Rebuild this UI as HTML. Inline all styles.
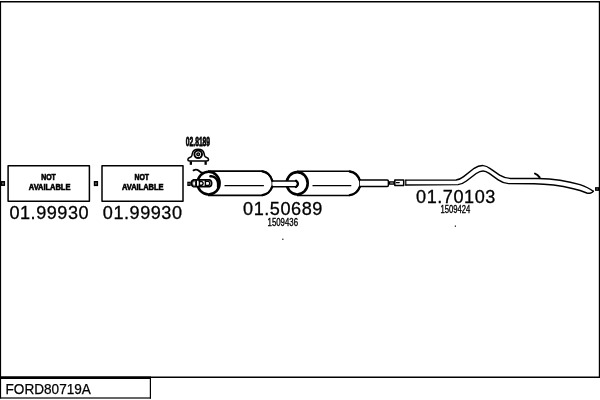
<!DOCTYPE html>
<html>
<head>
<meta charset="utf-8">
<title>FORD80719A</title>
<style>
  html, body { margin: 0; padding: 0; background: #ffffff; }
  body { width: 600px; height: 400px; overflow: hidden; font-family: "Liberation Sans", sans-serif; }
  svg { display: block; position: absolute; left: 0; top: 0; filter: grayscale(1); }
  text { font-family: "Liberation Sans", sans-serif; fill: #000; }
  .big { font-size: 18.1px; stroke: #000; stroke-width: 0.3; }
  .sm { font-size: 10.3px; stroke: #000; stroke-width: 0.35; }
  .na { font-size: 8.6px; font-weight: bold; stroke: #000; stroke-width: 0.65; }
  .ln { fill: none; stroke: #000; stroke-width: 1.1; stroke-linecap: round; stroke-linejoin: round; }
  .lnw { fill: #fff; stroke: #000; stroke-width: 1.1; stroke-linejoin: round; }
  .thick { fill: none; stroke: #000; stroke-width: 1.8; stroke-linecap: round; stroke-linejoin: round; }
</style>
</head>
<body>
<svg width="600" height="400" viewBox="0 0 600 400">
  <rect x="0" y="0" width="600" height="400" fill="#ffffff"/>

  <!-- outer frame -->
  <rect x="0" y="1" width="600" height="1.5" fill="#000"/>
  <rect x="0" y="1" width="1.1" height="397.5" fill="#000"/>
  <rect x="598.8" y="1" width="1.2" height="377" fill="#000"/>
  <rect x="0" y="376.5" width="600" height="1.5" fill="#000"/>
  <rect x="0" y="376.5" width="151" height="2.5" fill="#000"/>
  <!-- title box -->
  <rect x="149.8" y="377" width="1.2" height="21.6" fill="#000"/>
  <rect x="0" y="397.4" width="151" height="1.2" fill="#000"/>
  <text x="5.5" y="393.7" textLength="85.4" lengthAdjust="spacingAndGlyphs" style="font-size:14.1px;stroke:#000;stroke-width:0.25">FORD80719A</text>

  <!-- NOT AVAILABLE boxes -->
  <rect class="lnw" x="8.1" y="165.8" width="81.3" height="35.5" style="stroke-width:1.5"/>
  <rect class="lnw" x="102" y="165.8" width="81" height="35.5" style="stroke-width:1.5"/>
  <text class="na" x="48.5" y="180.3" text-anchor="middle" textLength="14.6" lengthAdjust="spacingAndGlyphs">NOT</text>
  <text class="na" x="49.6" y="190.1" text-anchor="middle" textLength="41.6" lengthAdjust="spacingAndGlyphs">AVAILABLE</text>
  <text class="na" x="141.7" y="180.3" text-anchor="middle" textLength="14.6" lengthAdjust="spacingAndGlyphs">NOT</text>
  <text class="na" x="142.7" y="190.1" text-anchor="middle" textLength="41.6" lengthAdjust="spacingAndGlyphs">AVAILABLE</text>

  <!-- small connector squares -->
  <rect x="1.6" y="181.8" width="2.7" height="3.4" fill="#999" stroke="#000" stroke-width="1.5"/>
  <rect x="94.6" y="181.8" width="2.7" height="3.5" fill="#999" stroke="#000" stroke-width="1.6"/>
  <rect x="188" y="182.4" width="2" height="2.9" fill="#fff" stroke="#000" stroke-width="1.4"/>
  <rect x="595.7" y="187.8" width="2.8" height="2.4" fill="#777" stroke="#000" stroke-width="1.3"/>

  <!-- labels -->
  <text class="big" x="9.4" y="218.6" textLength="79.2">01.99930</text>
  <text class="big" x="102.8" y="218.5" textLength="79.2">01.99930</text>
  <text class="big" x="243.1" y="215.3" textLength="79.2">01.50689</text>
  <text class="big" x="416.1" y="202.9" textLength="79.2">01.70103</text>
  <text class="sm" x="267.6" y="225.7" textLength="30.4" lengthAdjust="spacingAndGlyphs">1509436</text>
  <text class="sm" x="440.5" y="213.3" textLength="29.8" lengthAdjust="spacingAndGlyphs">1509424</text>
  <rect x="282.3" y="238.6" width="1.1" height="1.3" fill="#000"/>
  <rect x="454.8" y="225.5" width="1.1" height="1.3" fill="#000"/>

  <!-- clamp 02.8189 -->
  <text x="185.8" y="145.5" textLength="24.3" lengthAdjust="spacingAndGlyphs" style="font-size:12.8px;font-weight:bold;fill:#000;stroke:#000;stroke-width:0.8">02.8189</text>
  <g id="clamp">
    <path class="thick" style="stroke-width:1.5" d="M198.2,149.3 C194.4,149.3 192.6,151.6 192.2,154 L191.9,155.6 Q191.6,156.9 189.8,157.5 Q187.9,158.1 187.9,159.5 Q187.9,161 189.8,161 L206.6,161 Q208.5,161 208.5,159.5 Q208.5,158.1 206.6,157.5 Q204.8,156.9 204.5,155.6 L204.2,154 C203.8,151.6 202,149.3 198.2,149.3 Z"/>
    <circle cx="198.2" cy="154.3" r="3.8" fill="none" stroke="#000" stroke-width="2"/>
    <circle cx="198.2" cy="154.3" r="1.4" fill="#aaa" stroke="#000" stroke-width="1.4"/>
    <rect x="189.7" y="161.3" width="2.3" height="3.5" fill="#000"/>
    <rect x="204.5" y="161.3" width="2.3" height="3.5" fill="#000"/>
  </g>

  <!-- muffler 1 -->
  <g id="muffler1">
    <!-- body -->
    <path class="lnw" style="stroke-width:1.6" d="M208,171.1 L262,171.1 C266.5,171.6 270.8,175.4 272.3,180.9 L272.3,186.6 C270.8,191.4 266.5,194.9 262,195.4 L208,195.4"/>
    <line class="ln" x1="225" y1="185.7" x2="263.4" y2="185.7" style="stroke-width:1.3"/>
    <!-- end cap ellipse -->
    <ellipse cx="208.55" cy="183.2" rx="11.1" ry="11.35" fill="#fff" stroke="#000" stroke-width="2.5"/>
    <path class="ln" style="stroke-width:2.5" d="M210.4,176.3 C213.6,175.9 216.8,178.4 217.8,181.6 C218.2,183 218.3,184.8 218.1,187"/>
    <!-- inlet pipe -->
    <path d="M193.6,179.9 L209.4,179.9 Q211.6,180.4 211.6,183.3 Q211.6,186.2 209.4,186.7 L193.6,186.7 Q191.4,185.8 191.4,183.3 Q191.4,180.8 193.6,179.9 Z" fill="#fff" stroke="#000" stroke-width="1.8" stroke-linejoin="round"/>
    <ellipse cx="194.1" cy="183.5" rx="1.45" ry="2.7" fill="#fff" stroke="#000" stroke-width="0.8"/>
    <rect x="195.3" y="180" width="1.7" height="6.6" fill="#000"/>
    <line class="ln" x1="199.4" y1="180.2" x2="199.4" y2="186.4" style="stroke-width:1.4"/>
    <path class="ln" style="stroke-width:1.4" d="M199.4,181.5 L202,181.5 Q204.4,183.3 202,185.2 L199.4,185.2"/>
    <path class="ln" style="stroke-width:1.4" d="M205.4,180.4 L205.4,186.4"/>
    <path class="ln" style="stroke-width:1.2" d="M205.4,181.3 L208.9,181.3 Q210.5,183.3 208.9,185.4 L205.4,185.4"/>
    <!-- hook -->
    <path class="ln" style="stroke-width:1.8" d="M193.5,170.4 Q196.2,168.9 198.6,170.6 Q200.6,172.9 204.2,173.1"/>
  </g>

  <!-- connecting pipe muffler1 - muffler2 -->
  <!-- muffler 2 -->
  <g id="muffler2">
    <path class="lnw" style="stroke-width:1.6" d="M297,171.2 L349.3,171.2 C353.8,171.7 358.2,175.4 360,180.6 L360,186.6 C358.2,191.4 353.8,195 349.3,195.5 L297,195.5"/>
    <line class="ln" x1="313" y1="185.7" x2="350.8" y2="185.7" style="stroke-width:1.3"/>
    <ellipse cx="297.2" cy="183.3" rx="10.5" ry="11.2" fill="#fff" stroke="#000" stroke-width="2.6"/>
    <path class="lnw" style="stroke-width:1.5" d="M272.3,180.9 L296.4,180.9 Q299.2,183.8 296.4,186.7 L272.3,186.7"/>
    <path class="thick" style="stroke-width:2.2" d="M296,180.6 Q300,183.8 296,187"/>
  </g>
  <!-- heavier right end arcs -->
  <path class="thick" style="stroke-width:2.3" d="M262.5,171.4 C266.8,172 270.8,175.6 272.2,180.8 M272.2,186.7 C270.8,191.2 266.8,194.6 262.5,195.1"/>
  <path class="thick" style="stroke-width:2.3" d="M349.8,171.5 C354.1,172.1 358.2,175.6 359.9,180.5 M359.9,186.7 C358.2,191.2 354.1,194.7 349.8,195.2"/>

  <!-- pipe after muffler 2 -->
  <path class="lnw" style="stroke-width:1.5" d="M360,180 L387.2,180 Q388.4,180 388.4,181.2 L388.4,185.3 Q388.4,186.5 387.2,186.5 L360,186.5"/>
  <rect x="389.6" y="181.9" width="4.4" height="2.2" fill="#ccc" stroke="#000" stroke-width="1.3"/>

  <!-- tail pipe 01.70103 -->
  <rect class="lnw" x="394.8" y="180" width="8.9" height="5.6" style="stroke-width:1.5"/>
  <line class="ln" x1="396.4" y1="182.6" x2="399.2" y2="182.6" style="stroke-width:1.4"/>
  <path class="ln" style="stroke-width:1.45" d="M405.8,180.1 L456,180 C459.5,179.9 461.5,178.2 463.6,176.6 L474.2,168.3 C478,165.7 480.6,165.5 483.2,165.6 C486,165.7 488.2,167 490.6,168.8 L499.6,175.2 C503.2,177.4 506,178.3 510,178.4 L538,178.4 C552,178.7 566,180.4 580,184.6 C586,186.6 590.4,189 593.2,191.3"/>
  <path class="ln" style="stroke-width:1.45" d="M405.8,185 L458,184.6 C461.6,184.4 463.8,183 466.4,181 L476.2,173.5 C479.2,171.4 481.2,170.9 483.1,170.9 C485.2,170.9 487,171.8 489.2,173.4 L498.2,179.8 C502,182.4 504.6,183.4 508.6,183.6 L534,183.8 C548,184 560,185.6 573.3,188.7 C579,190 583.4,191.6 586.8,193 C589.4,193.6 592.6,193 593.2,191.3"/>
  <line class="ln" x1="405.8" y1="180.1" x2="405.8" y2="185" style="stroke-width:1.2"/>
  <!-- hanger hook -->
  <path class="thick" style="stroke-width:2" d="M535,173.6 Q537.6,174.4 539.6,177.4"/>
</svg>
</body>
</html>
